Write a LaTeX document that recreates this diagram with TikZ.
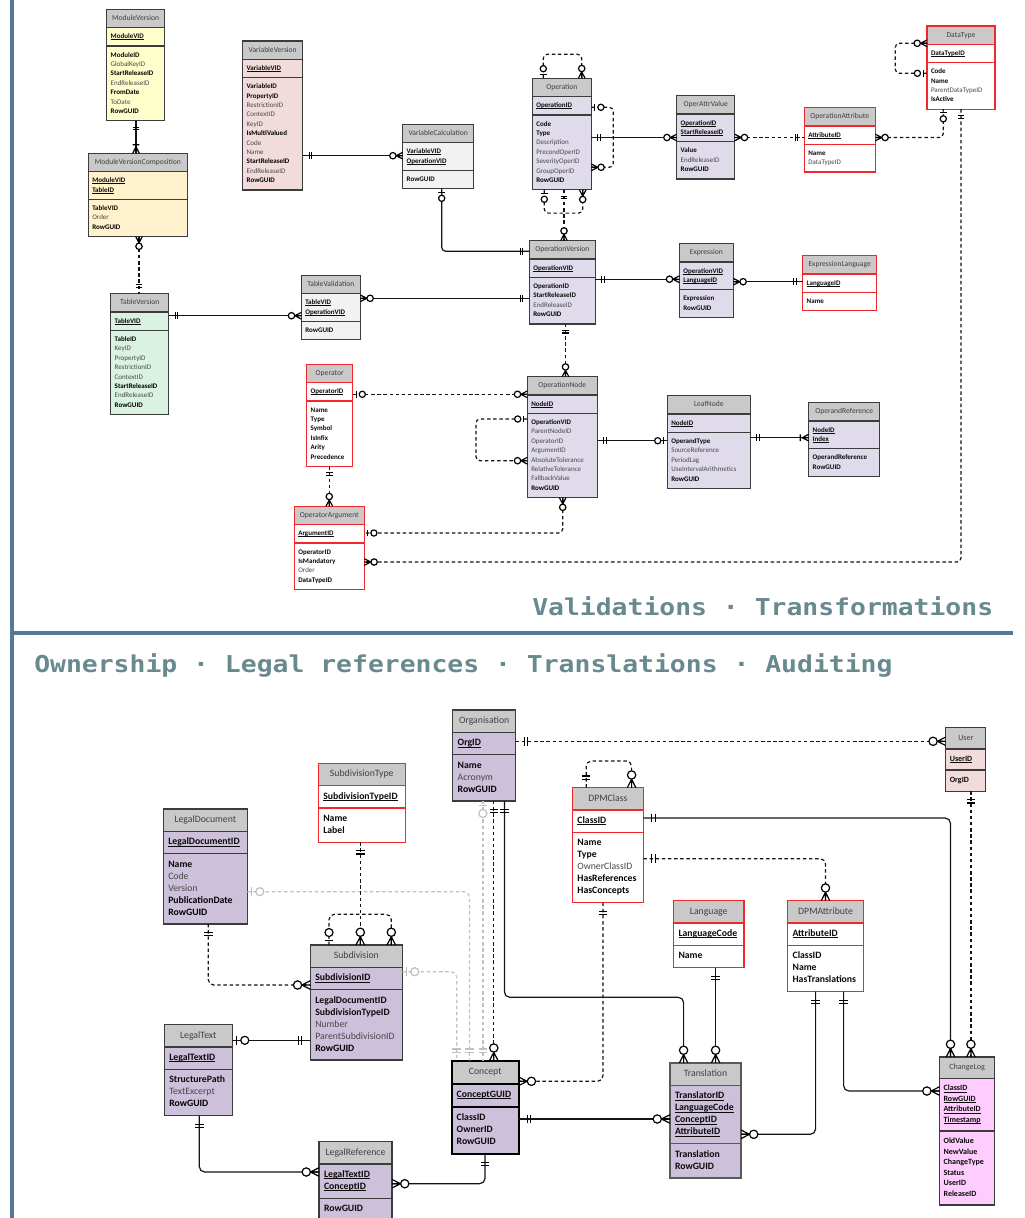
\documentclass[tikz,border=0pt]{standalone}
\usepackage{fontspec}
\setmainfont{Carlito}
\newfontfamily\monofam{DejaVu Sans Mono}
\usepackage{graphicx}
\usetikzlibrary{shapes.multipart}

\definecolor{hdr}{RGB}{201,201,201}
\definecolor{tbord}{RGB}{60,60,60}
\definecolor{redb}{RGB}{240,40,45}
\definecolor{cyellow}{RGB}{255,255,204}
\definecolor{corange}{RGB}{255,242,204}
\definecolor{cgreen}{RGB}{217,242,226}
\definecolor{cpink}{RGB}{242,220,219}
\definecolor{clgray}{RGB}{242,242,242}
\definecolor{clav}{RGB}{224,219,234}
\definecolor{cpurp}{RGB}{204,192,218}
\definecolor{cmag}{RGB}{255,204,255}
\definecolor{opttext}{RGB}{72,72,72}
\definecolor{keytext}{RGB}{10,10,10}
\definecolor{ttltext}{RGB}{64,64,64}
\definecolor{lnk}{RGB}{20,20,20}
\definecolor{lgconn}{RGB}{192,192,192}
\definecolor{barblue}{RGB}{84,120,150}
\definecolor{banner}{RGB}{104,137,142}

% table geometry and text
\newlength\tblw
\def\xs{6pt}
\newcommand\topfont{\fontsize{5.25}{7.05}\selectfont}
\newcommand\toptitle{\fontsize{5.7}{7.05}\selectfont}
\newcommand\botfont{\fontsize{7.3}{9}\selectfont}
\newcommand\bottitle{\fontsize{7.3}{9}\selectfont}
\newcommand\smfont{\fontsize{6}{7.9}\selectfont}
\newcommand\smtitle{\fontsize{6}{7.9}\selectfont}
\let\ttlfont\toptitle
\newcommand\HD[1]{\vbox{\hbox to\tblw{\hss\ttlfont\color{ttltext}\strut#1\hss}}}
\newcommand\KF[1]{\hbox to\tblw{\strut\setbox0\hbox{\textbf{#1}}%
  \rlap{\rule[-0.16em]{\wd0}{0.075em}}\box0\hfil}}
\newcommand\BF[1]{\hbox to\tblw{\strut\textbf{#1}\hfil}}
\newcommand\RF[1]{\hbox to\tblw{\strut\color{opttext}#1\hfil}}
\newcommand\tbl[3]{\HD{#1}\nodepart{two}\vbox{#2}\nodepart{three}\vbox{#3}}
% relationship end symbol: coordinate, direction away from the table, kind
\newcommand\erend[4][]{\path #2 pic[rotate=#3,#1]{#4};}

\tikzset{
  tblbox/.style={rectangle split, rectangle split parts=3, anchor=north west,
    outer sep=0pt, draw=tbord, line width=1pt, text=keytext,
    rectangle split part fill={hdr,#1}},
  topt/.style={font=\topfont, inner xsep=3pt, inner ysep=2.85pt,
    /utils/exec={\let\ttlfont\toptitle\def\xs{6pt}}},
  bott/.style={font=\botfont, inner xsep=3.75pt, inner ysep=3.375pt,
    /utils/exec={\let\ttlfont\bottitle\def\xs{7.5pt}}},
  smt/.style={font=\smfont, inner xsep=3pt, inner ysep=3.5pt,
    /utils/exec={\let\ttlfont\smtitle\def\xs{6pt}}},
  tw/.code={\pgfmathsetlength\tblw{#1*0.75pt-\xs}},
  redt/.style={draw=redb},
  conn/.style={draw=lnk, line width=0.9pt},
  dconn/.style={conn, dash pattern=on 2.6pt off 2pt},
  gconn/.style={draw=lgconn, line width=0.9pt, dash pattern=on 2.6pt off 2pt},
  bigsym/.style={scale=1.3},
  mand/.pic={\draw[solid,line width=0.9pt] (6.5,-3.3)--(6.5,3.3) (9,-3.3)--(9,3.3);},
  zone/.pic={\draw[solid,line width=0.9pt] (3.5,-3.3)--(3.5,3.3);
    \draw[solid,line width=0.9pt,fill=white] (9.6,0) circle[radius=3.1];},
  zmany/.pic={\draw[solid,line width=0.9pt] (0,-3.3)--(6.5,0)--(0,3.3) (0,0)--(6.5,0);
    \draw[solid,line width=0.9pt,fill=white] (9.8,0) circle[radius=3.2];},
  omany/.pic={\draw[solid,line width=0.9pt] (0,-3.3)--(6.5,0)--(0,3.3) (0,0)--(6.5,0)
    (8.5,-3.3)--(8.5,3.3);},
}

\begin{document}
\begin{tikzpicture}[x=0.75pt,y=-0.75pt]
\useasboundingbox (0,0) rectangle (1025,1218);

% section frame
\draw[barblue, line width=3pt] (12,0) -- (12,1218);
\draw[barblue, line width=3.5pt] (12,633) -- (1013,633);

% ---------------- tables: validations / transformations ----------------
\node[tblbox=cyellow, topt, tw=58] (MV) at (106.7,9.3) {\tbl{ModuleVersion}
  {\KF{ModuleVID}}
  {\BF{ModuleID}\RF{GlobalKeyID}\BF{StartReleaseID}\RF{EndReleaseID}\BF{FromDate}\RF{ToDate}\BF{RowGUID}}};
\node[tblbox=corange, topt, tw=99] (MVC) at (88.3,153.3) {\tbl{ModuleVersionComposition}
  {\KF{ModuleVID}\KF{TableID}}
  {\BF{TableVID}\RF{Order}\BF{RowGUID}}};
\node[tblbox=cgreen, topt, tw=58] (TV) at (110.7,293.7) {\tbl{TableVersion}
  {\KF{TableVID}}
  {\BF{TableID}\RF{KeyID}\RF{PropertyID}\RF{RestrictionID}\RF{ContextID}\BF{StartReleaseID}\RF{EndReleaseID}\BF{RowGUID}}};
\node[tblbox=cpink, topt, tw=60] (VV) at (242.7,41) {\tbl{VariableVersion}
  {\KF{VariableVID}}
  {\BF{VariableID}\BF{PropertyID}\RF{RestrictionID}\RF{ContextID}\RF{KeyID}\BF{IsMultiValued}\RF{Code}\RF{Name}\BF{StartReleaseID}\RF{EndReleaseID}\BF{RowGUID}}};
\node[tblbox=clgray, topt, tw=71] (VC) at (402.7,124.3) {\tbl{VariableCalculation}
  {\KF{VariableVID}\KF{OperationVID}}
  {\BF{RowGUID}}};
\node[tblbox=clgray, topt, tw=59] (TVal) at (301.3,275.3) {\tbl{TableValidation}
  {\KF{TableVID}\KF{OperationVID}}
  {\BF{RowGUID}}};
\node[tblbox=clav, topt, tw=59] (Op) at (532.3,78.3) {\tbl{Operation}
  {\KF{OperationID}}
  {\BF{Code}\BF{Type}\RF{Description}\RF{PrecondOperID}\RF{SeverityOperID}\RF{GroupOperID}\BF{RowGUID}}};
\node[tblbox=clav, topt, tw=66] (OV) at (529.3,240.7) {\tbl{OperationVersion}
  {\KF{OperationVID}}
  {\BF{OperationID}\BF{StartReleaseID}\RF{EndReleaseID}\BF{RowGUID}}};
\node[tblbox=clav, topt, tw=58] (OAV) at (676.7,95.7) {\tbl{OperAttrValue}
  {\KF{OperationID}\KF{StartReleaseID}}
  {\BF{Value}\RF{EndReleaseID}\BF{RowGUID}}};
\node[tblbox=white, redt, topt, tw=71] (OA) at (804.3,107.7) {\tbl{OperationAttribute}
  {\KF{AttributeID}}
  {\BF{Name}\RF{DataTypeID}}};
\node[tblbox=white, redt, topt, tw=68] (DT) at (927,26) {\tbl{DataType}
  {\KF{DataTypeID}}
  {\BF{Code}\BF{Name}\RF{ParentDataTypeID}\BF{IsActive}}};
\node[tblbox=clav, topt, tw=54] (Expr) at (679.3,243.7) {\tbl{Expression}
  {\KF{OperationVID}\KF{LanguageID}}
  {\BF{Expression}\BF{RowGUID}}};
\node[tblbox=white, redt, topt, tw=74] (EL) at (802.7,255.7) {\tbl{ExpressionLanguage}
  {\KF{LanguageID}}
  {\BF{Name}}};
\node[tblbox=white, redt, topt, tw=46] (Opr) at (306.7,364.3) {\tbl{Operator}
  {\KF{OperatorID}}
  {\BF{Name}\BF{Type}\BF{Symbol}\BF{IsInfix}\BF{Arity}\BF{Precedence}}};
\node[tblbox=white, redt, topt, tw=70] (OArg) at (294.3,506.3) {\tbl{OperatorArgument}
  {\KF{ArgumentID}}
  {\BF{OperatorID}\BF{IsMandatory}\RF{Order}\BF{DataTypeID}}};
\node[tblbox=clav, topt, tw=70] (ON) at (527.3,376.7) {\tbl{OperationNode}
  {\KF{NodeID}}
  {\BF{OperationVID}\RF{ParentNodeID}\RF{OperatorID}\RF{ArgumentID}\RF{AbsoluteTolerance}\RF{RelativeTolerance}\RF{FallbackValue}\BF{RowGUID}}};
\node[tblbox=clav, topt, tw=83] (LN) at (667.3,395.7) {\tbl{LeafNode}
  {\KF{NodeID}}
  {\BF{OperandType}\RF{SourceReference}\RF{PeriodLag}\RF{UseIntervalArithmetics}\BF{RowGUID}}};
\node[tblbox=clav, topt, tw=71] (OR) at (808.7,402.7) {\tbl{OperandReference}
  {\KF{NodeID}\KF{Index}}
  {\BF{OperandReference}\BF{RowGUID}}};

% ---------------- tables: ownership / legal / translations / auditing ----------------
\node[tblbox=cpurp, bott, tw=63] (Org) at (452.7,710) {\tbl{Organisation}
  {\KF{OrgID}}
  {\BF{Name}\RF{Acronym}\BF{RowGUID}}};
\node[tblbox=white, redt, bott, tw=87] (SubT) at (318.3,763.3) {\tbl{SubdivisionType}
  {\KF{SubdivisionTypeID}}
  {\BF{Name}\BF{Label}}};
\node[tblbox=cpurp, bott, tw=84] (LD) at (163.3,809) {\tbl{LegalDocument}
  {\KF{LegalDocumentID}}
  {\BF{Name}\RF{Code}\RF{Version}\BF{PublicationDate}\BF{RowGUID}}};
\node[tblbox=cpurp, bott, tw=92] (Sub) at (310.3,945) {\tbl{Subdivision}
  {\KF{SubdivisionID}}
  {\BF{LegalDocumentID}\BF{SubdivisionTypeID}\RF{Number}\RF{ParentSubdivisionID}\BF{RowGUID}}};
\node[tblbox=cpurp, bott, tw=68] (LT) at (164.3,1024.7) {\tbl{LegalText}
  {\KF{LegalTextID}}
  {\BF{StructurePath}\RF{TextExcerpt}\BF{RowGUID}}};
\node[tblbox=cpurp, bott, tw=73] (LR) at (319,1141.7) {\tbl{LegalReference}
  {\KF{LegalTextID}\KF{ConceptID}}
  {\BF{RowGUID}}};
\node[tblbox=cpurp, bott, tw=67, draw=black, line width=1.5pt] (Con) at (451.7,1060.7) {\tbl{Concept}
  {\KF{ConceptGUID}}
  {\BF{ClassID}\BF{OwnerID}\BF{RowGUID}}};
\node[tblbox=white, redt, bott, tw=71] (DC) at (572.4,787.7) {\tbl{DPMClass}
  {\KF{ClassID}}
  {\BF{Name}\BF{Type}\RF{OwnerClassID}\BF{HasReferences}\BF{HasConcepts}}};
\node[tblbox=white, redt, bott, tw=70.5] (Lang) at (673.5,900.7) {\tbl{Language}
  {\KF{LanguageCode}}
  {\BF{Name}}};
\node[tblbox=white, redt, bott, tw=76] (DA) at (787.6,900.7) {\tbl{DPMAttribute}
  {\KF{AttributeID}}
  {\BF{ClassID}\BF{Name}\BF{HasTranslations}}};
\node[tblbox=cpink, smt, tw=40] (User) at (945.8,727.7) {\tbl{User}
  {\KF{UserID}}
  {\BF{OrgID}}};
\node[tblbox=cmag, smt, tw=55] (CL) at (939.6,1057) {\tbl{ChangeLog}
  {\KF{ClassID}\KF{RowGUID}\KF{AttributeID}\KF{Timestamp}}
  {\BF{OldValue}\BF{NewValue}\BF{ChangeType}\BF{Status}\BF{UserID}\BF{ReleaseID}}};
\node[tblbox=cpurp, bott, tw=71, draw=black!65] (Tr) at (670,1063) {\tbl{Translation}
  {\KF{TranslatorID}\KF{LanguageCode}\KF{ConceptID}\KF{AttributeID}}
  {\BF{Translation}\BF{RowGUID}}};

% ---------------- relationships: validations / transformations ----------------
\draw[conn] (MV.south -| 136,0) -- (MVC.north -| 136,0);
\draw[dconn] (MVC.south -| 139,0) -- (TV.north -| 139,0);
\draw[conn] (TV.east |- 0,315.7) -- (TVal.west |- 0,315.7);
\draw[conn] (TVal.east |- 0,298.3) -- (OV.west |- 0,298.3);
\draw[conn] (VV.east |- 0,155.7) -- (VC.west |- 0,155.7);
\draw[conn, rounded corners=3pt] (VC.south -| 441.7,0) |- (OV.west |- 0,251.3);
\draw[dconn] (Op.south -| 564,0) -- (OV.north -| 564,0);
\draw[dconn, rounded corners=3pt] (Op.north -| 543.3,0) -- ++(0,-24) -| (Op.north -| 581.7,0);
\draw[dconn, rounded corners=3pt] (Op.east |- 0,107.3) -- ++(22,0) |- (Op.east |- 0,167.3);
\draw[dconn, rounded corners=3pt] (Op.south -| 544.3,0) -- ++(0,23.4) -| (Op.south -| 582.7,0);
\draw[conn] (Op.east |- 0,137.5) -- (OAV.west |- 0,137.5);
\draw[dconn] (OAV.east |- 0,137.5) -- (OA.west |- 0,137.5);
\draw[dconn, rounded corners=3pt] (OA.east |- 0,137.5) -| (DT.south -| 943.3,0);
\draw[dconn, rounded corners=3pt] (DT.west |- 0,43.3) -- ++(-31.7,0) |- (DT.west |- 0,73.3);
\draw[dconn, rounded corners=3pt] (DT.south -| 961,0) |- (OArg.east |- 0,562);
\draw[conn] (OV.east |- 0,279.2) -- (Expr.west |- 0,279.2);
\draw[conn] (Expr.east |- 0,281.7) -- (EL.west |- 0,281.7);
\draw[dconn] (OV.south -| 565.5,0) -- (ON.north -| 565.5,0);
\draw[dconn] (Opr.east |- 0,394.3) -- (ON.west |- 0,394.3);
\draw[dconn, rounded corners=3pt] (ON.west |- 0,419) -- ++(-51.3,0) |- (ON.west |- 0,460.7);
\draw[dconn] (Opr.south -| 329.3,0) -- (OArg.north -| 329.3,0);
\draw[dconn, rounded corners=3pt] (ON.south -| 562.7,0) |- (OArg.east |- 0,533);
\draw[conn] (ON.east |- 0,440.7) -- (LN.west |- 0,440.7);
\draw[conn] (LN.east |- 0,437.7) -- (OR.west |- 0,437.7);

% ---------------- relationships: ownership / legal / translations / auditing ----------------
\draw[dconn] (Org.east |- 0,741.3) -- (User.west |- 0,741.3);
\draw[dconn] (User.south -| 970.9,0) -- (CL.north -| 970.9,0);
\draw[conn, rounded corners=4pt] (DC.east |- 0,818) -| (CL.north -| 950.5,0);
\draw[dconn, rounded corners=4pt] (DC.north -| 586.2,0) -- ++(0,-26.7) -| (DC.north -| 631.6,0);
\draw[dconn, rounded corners=4pt] (DC.east |- 0,858.7) -| (DA.north -| 825.5,0);
\draw[dconn, rounded corners=4pt] (DC.south -| 602.9,0) |- (Con.east |- 0,1081.3);
\draw[conn] (Con.east |- 0,1119) -- (Tr.west |- 0,1119);
\draw[conn] (Lang.south -| 715.6,0) -- (Tr.north -| 715.6,0);
\draw[conn, rounded corners=4pt] (Org.south -| 504.4,0) |- (600,997.3) -| (Tr.north -| 683.6,0);
\draw[dconn] (Org.south -| 493.8,0) -- (Con.north -| 493.8,0);
\draw[gconn] (Org.south -| 482.9,0) -- (Con.north -| 482.9,0);
\draw[gconn, rounded corners=4pt] (LD.east |- 0,891.7) -| (Con.north -| 469.5,0);
\draw[gconn, rounded corners=4pt] (Sub.east |- 0,971.7) -| (Con.north -| 456.7,0);
\draw[conn, rounded corners=4pt] (DA.south -| 815.6,0) |- (Tr.east |- 0,1134.3);
\draw[conn, rounded corners=4pt] (DA.south -| 843.6,0) |- (CL.west |- 0,1091);
\draw[dconn] (SubT.south -| 360.3,0) -- (Sub.north -| 360.3,0);
\draw[dconn, rounded corners=4pt] (Sub.north -| 329,0) |- (360,914.3) -| (Sub.north -| 391.3,0);
\draw[dconn, rounded corners=4pt] (LD.south -| 208.3,0) |- (Sub.west |- 0,985);
\draw[conn] (LT.east |- 0,1040.3) -- (Sub.west |- 0,1040.3);
\draw[conn, rounded corners=4pt] (LT.south -| 199.3,0) |- (LR.west |- 0,1172);
\draw[conn, rounded corners=4pt] (Con.south -| 485,0) |- (LR.east |- 0,1183.7);

% ---------------- relationship end symbols ----------------
\erend{(MV.south -| 136,0)}{-90}{mand}
\erend{(MVC.north -| 136,0)}{90}{omany}
\erend{(MVC.south -| 139,0)}{-90}{zmany}
\erend{(TV.north -| 139,0)}{90}{mand}
\erend{(TV.east |- 0,315.7)}{0}{mand}
\erend{(TVal.west |- 0,315.7)}{180}{zmany}
\erend{(TVal.east |- 0,298.3)}{0}{zmany}
\erend{(OV.west |- 0,298.3)}{180}{mand}
\erend{(VV.east |- 0,155.7)}{0}{mand}
\erend{(VC.west |- 0,155.7)}{180}{zmany}
\erend{(VC.south -| 441.7,0)}{-90}{zone}
\erend{(OV.west |- 0,251.3)}{180}{mand}
\erend{(Op.south -| 564,0)}{-90}{mand}
\erend{(OV.north -| 564,0)}{90}{zmany}
\erend{(Op.north -| 543.3,0)}{90}{zone}
\erend{(Op.north -| 581.7,0)}{90}{zmany}
\erend{(Op.east |- 0,107.3)}{0}{zone}
\erend{(Op.east |- 0,167.3)}{0}{zmany}
\erend{(Op.south -| 544.3,0)}{-90}{zone}
\erend{(Op.south -| 582.7,0)}{-90}{zmany}
\erend{(Op.east |- 0,137.5)}{0}{mand}
\erend{(OAV.west |- 0,137.5)}{180}{zmany}
\erend{(OAV.east |- 0,137.5)}{0}{zmany}
\erend{(OA.west |- 0,137.5)}{180}{mand}
\erend{(OA.east |- 0,137.5)}{0}{zmany}
\erend{(DT.south -| 943.3,0)}{-90}{zone}
\erend{(DT.west |- 0,43.3)}{180}{zmany}
\erend{(DT.west |- 0,73.3)}{180}{zone}
\erend{(DT.south -| 961,0)}{-90}{mand}
\erend{(OArg.east |- 0,562)}{0}{zmany}
\erend{(OV.east |- 0,279.2)}{0}{mand}
\erend{(Expr.west |- 0,279.2)}{180}{zmany}
\erend{(Expr.east |- 0,281.7)}{0}{zmany}
\erend{(EL.west |- 0,281.7)}{180}{mand}
\erend{(OV.south -| 565.5,0)}{-90}{mand}
\erend{(ON.north -| 565.5,0)}{90}{zmany}
\erend{(Opr.east |- 0,394.3)}{0}{zone}
\erend{(ON.west |- 0,394.3)}{180}{zmany}
\erend{(ON.west |- 0,419)}{180}{zone}
\erend{(ON.west |- 0,460.7)}{180}{zmany}
\erend{(Opr.south -| 329.3,0)}{-90}{mand}
\erend{(OArg.north -| 329.3,0)}{90}{zmany}
\erend{(ON.south -| 562.7,0)}{-90}{zmany}
\erend{(OArg.east |- 0,533)}{0}{zone}
\erend{(ON.east |- 0,440.7)}{0}{mand}
\erend{(LN.west |- 0,440.7)}{180}{zone}
\erend{(LN.east |- 0,437.7)}{0}{mand}
\erend{(OR.west |- 0,437.7)}{180}{omany}

\erend[bigsym]{(Org.east |- 0,741.3)}{0}{mand}
\erend[bigsym]{(User.west |- 0,741.3)}{180}{zmany}
\erend[bigsym]{(User.south -| 970.9,0)}{-90}{mand}
\erend[bigsym]{(CL.north -| 970.9,0)}{90}{zmany}
\erend[bigsym]{(DC.east |- 0,818)}{0}{mand}
\erend[bigsym]{(CL.north -| 950.5,0)}{90}{zmany}
\erend[bigsym]{(DC.north -| 586.2,0)}{90}{mand}
\erend[bigsym]{(DC.north -| 631.6,0)}{90}{zmany}
\erend[bigsym]{(DC.east |- 0,858.7)}{0}{mand}
\erend[bigsym]{(DA.north -| 825.5,0)}{90}{zmany}
\erend[bigsym]{(DC.south -| 602.9,0)}{-90}{mand}
\erend[bigsym]{(Con.east |- 0,1081.3)}{0}{zmany}
\erend[bigsym]{(Con.east |- 0,1119)}{0}{mand}
\erend[bigsym]{(Tr.west |- 0,1119)}{180}{zmany}
\erend[bigsym]{(Lang.south -| 715.6,0)}{-90}{mand}
\erend[bigsym]{(Tr.north -| 715.6,0)}{90}{zmany}
\erend[bigsym]{(Org.south -| 504.4,0)}{-90}{mand}
\erend[bigsym]{(Tr.north -| 683.6,0)}{90}{zmany}
\erend[bigsym]{(Org.south -| 493.8,0)}{-90}{mand}
\erend[bigsym]{(Con.north -| 493.8,0)}{90}{zmany}
\erend[bigsym,lgconn]{(Org.south -| 482.9,0)}{-90}{zone}
\erend[bigsym,lgconn]{(Con.north -| 482.9,0)}{90}{mand}
\erend[bigsym,lgconn]{(LD.east |- 0,891.7)}{0}{zone}
\erend[bigsym,lgconn]{(Con.north -| 469.5,0)}{90}{mand}
\erend[bigsym,lgconn]{(Sub.east |- 0,971.7)}{0}{zone}
\erend[bigsym,lgconn]{(Con.north -| 456.7,0)}{90}{mand}
\erend[bigsym]{(DA.south -| 815.6,0)}{-90}{mand}
\erend[bigsym]{(Tr.east |- 0,1134.3)}{0}{zmany}
\erend[bigsym]{(DA.south -| 843.6,0)}{-90}{mand}
\erend[bigsym]{(CL.west |- 0,1091)}{180}{zmany}
\erend[bigsym]{(SubT.south -| 360.3,0)}{-90}{mand}
\erend[bigsym]{(Sub.north -| 360.3,0)}{90}{zmany}
\erend[bigsym]{(Sub.north -| 329,0)}{90}{zone}
\erend[bigsym]{(Sub.north -| 391.3,0)}{90}{zmany}
\erend[bigsym]{(LD.south -| 208.3,0)}{-90}{mand}
\erend[bigsym]{(Sub.west |- 0,985)}{180}{zmany}
\erend[bigsym]{(LT.east |- 0,1040.3)}{0}{zone}
\erend[bigsym]{(Sub.west |- 0,1040.3)}{180}{mand}
\erend[bigsym]{(LT.south -| 199.3,0)}{-90}{mand}
\erend[bigsym]{(LR.west |- 0,1172)}{180}{zmany}
\erend[bigsym]{(Con.south -| 485,0)}{-90}{mand}
\erend[bigsym]{(LR.east |- 0,1183.7)}{0}{zmany}

% ---------------- section titles ----------------
\node[anchor=base west, inner sep=0pt, text=banner] (vtitle) at (532,615)
  {\monofam\bfseries\fontsize{19.8}{24}\selectfont\scalebox{1}[0.88]{Validations · Transformations}};
\node[anchor=base west, inner sep=0pt, text=banner] (otitle) at (34,672)
  {\monofam\bfseries\fontsize{19.8}{24}\selectfont\scalebox{1}[0.88]{Ownership · Legal references · Translations · Auditing}};
\end{tikzpicture}
\end{document}
